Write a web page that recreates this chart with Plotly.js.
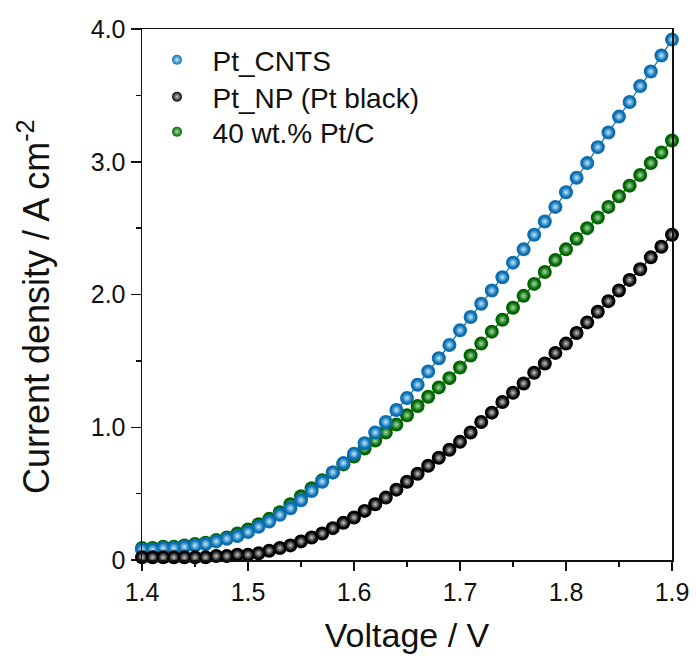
<!DOCTYPE html>
<html>
<head>
<meta charset="utf-8">
<script src="https://cdn.plot.ly/plotly-3.0.1.min.js"></script>
<style>html,body{margin:0;padding:0;background:#fff;}#chart{width:696px;height:662px;}</style>
</head>
<body>
<div id="chart"></div>
<script>
var voltage = [1.40,1.41,1.42,1.43,1.44,1.45,1.46,1.47,1.48,1.49,1.50,1.51,1.52,1.53,1.54,1.55,1.56,1.57,1.58,1.59,1.60,1.61,1.62,1.63,1.64,1.65,1.66,1.67,1.68,1.69,1.70,1.71,1.72,1.73,1.74,1.75,1.76,1.77,1.78,1.79,1.80,1.81,1.82,1.83,1.84,1.85,1.86,1.87,1.88,1.89,1.90];

var ptCNTS = [0.08,0.08,0.09,0.09,0.10,0.11,0.12,0.14,0.16,0.18,0.21,0.25,0.29,0.34,0.39,0.45,0.52,0.59,0.66,0.73,0.80,0.88,0.96,1.04,1.13,1.22,1.32,1.42,1.52,1.62,1.73,1.83,1.93,2.03,2.13,2.24,2.34,2.45,2.55,2.66,2.77,2.88,2.99,3.11,3.22,3.34,3.45,3.57,3.68,3.80,3.92];

var ptNP = [0.02,0.02,0.02,0.02,0.02,0.02,0.02,0.03,0.03,0.04,0.04,0.05,0.07,0.09,0.11,0.14,0.17,0.20,0.24,0.28,0.32,0.37,0.42,0.47,0.53,0.59,0.65,0.71,0.77,0.83,0.89,0.96,1.04,1.11,1.19,1.26,1.33,1.41,1.48,1.56,1.63,1.71,1.79,1.87,1.95,2.03,2.11,2.19,2.28,2.36,2.45];

var ptC = [0.09,0.09,0.10,0.10,0.11,0.12,0.13,0.15,0.17,0.20,0.23,0.27,0.31,0.36,0.42,0.48,0.54,0.60,0.66,0.72,0.78,0.84,0.90,0.96,1.02,1.09,1.16,1.23,1.30,1.37,1.45,1.54,1.63,1.72,1.81,1.90,1.99,2.08,2.17,2.26,2.34,2.42,2.50,2.58,2.66,2.74,2.82,2.90,2.99,3.07,3.16];

var seriesNames = ['Pt_CNTS', 'Pt_NP (Pt black)', '40 wt.% Pt/C'];
var xTickVals = [1.4,1.5,1.6,1.7,1.8,1.9];
var xTickText = ['1.4','1.5','1.6','1.7','1.8','1.9'];
var yTickVals = [0,1,2,3,4];
var yTickText = ['0','1.0','2.0','3.0','4.0'];
var xTitle = 'Voltage / V';
var yTitle = 'Current density / A cm<sup>-2</sup>';

var FONT = 'Arial, "Liberation Sans", Helvetica, sans-serif';
var PAD = '\u00a0\u00a0';

function ball(name, y, base, hi, legendId) {
  return [{
    x: voltage, y: y, type: 'scatter', mode: 'lines+markers', showlegend: false, hoverinfo: 'skip',
    line: {color: base, width: 1.2},
    marker: {size: 14, color: base, line: {width: 0}},
    cliponaxis: false
  }, {
    x: voltage, y: y, name: PAD + name, type: 'scatter', mode: 'markers',
    legend: legendId,
    marker: {size: 10, color: base, line: {width: 0}, gradient: {type: 'radial', color: hi}},
    cliponaxis: false
  }];
}

var traces = [].concat(
  ball(seriesNames[2], ptC, '#006400', '#a6dca6', 'legend3'),
  ball(seriesNames[0], ptCNTS, '#0a6eb0', '#bfe8ff', 'legend'),
  ball(seriesNames[1], ptNP, '#000000', '#c8c8c8', 'legend2')
);

function leg(yc) {
  return {
    x: (157 - 142) / 530, y: (560 - yc) / 531, xanchor: 'left', yanchor: 'middle',
    font: {family: FONT, size: 28, color: '#111'},
    bgcolor: 'rgba(0,0,0,0)', borderwidth: 0
  };
}

var layout = {
  width: 696, height: 662,
  margin: {l: 142, r: 24, t: 29, b: 102, pad: 0},
  paper_bgcolor: '#fff', plot_bgcolor: '#fff',
  font: {family: FONT, color: '#111'},
  showlegend: true,
  legend: leg(60),
  legend2: leg(97),
  legend3: leg(132),
  xaxis: {
    range: [1.4, 1.9], tickmode: 'array', tickvals: xTickVals, ticktext: xTickText,
    ticks: 'outside', ticklen: 9, tickwidth: 1.5, tickcolor: '#111', ticklabelstandoff: 0,
    minor: {dtick: 0.05, ticks: 'outside', ticklen: 5, tickwidth: 1.5, tickcolor: '#111', showgrid: false},
    showline: true, linecolor: '#111', linewidth: 1.5, mirror: true,
    showgrid: false, zeroline: false,
    tickfont: {family: FONT, size: 25, color: '#111'},
    title: {text: xTitle, font: {family: FONT, size: 34, color: '#111'}, standoff: 18}
  },
  yaxis: {
    range: [0, 4.0], tickmode: 'array', tickvals: yTickVals, ticktext: yTickText,
    ticks: 'outside', ticklen: 10, tickwidth: 1.5, tickcolor: '#111',
    minor: {dtick: 0.5, ticks: 'outside', ticklen: 5, tickwidth: 1.5, tickcolor: '#111', showgrid: false},
    showline: true, linecolor: '#111', linewidth: 1.5, mirror: true,
    showgrid: false, zeroline: false,
    tickfont: {family: FONT, size: 25, color: '#111'}
  },
  annotations: [{
    text: yTitle, textangle: -90, showarrow: false,
    xref: 'paper', yref: 'paper',
    x: (34 - 142) / 530, y: (560 - 307) / 531, xanchor: 'center', yanchor: 'middle',
    font: {family: FONT, size: 36, color: '#111'}
  }]
};

Plotly.newPlot('chart', traces, layout, {displayModeBar: false, staticPlot: true});
</script>
</body>
</html>
